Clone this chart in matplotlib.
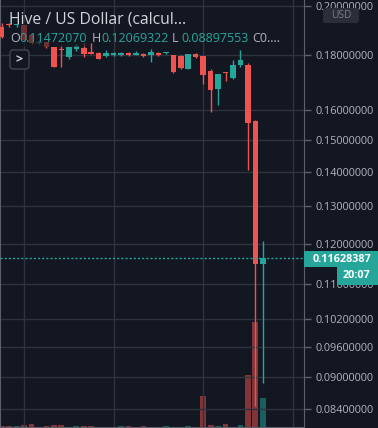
import matplotlib
matplotlib.use("Agg")
import matplotlib.pyplot as plt
from matplotlib.patches import Rectangle, FancyBboxPatch
from matplotlib.ticker import FixedLocator, NullLocator, FuncFormatter

# candle data (5 min bars)
opens = [0.1913, 0.1922, 0.1918, 0.1920, 0.1879, 0.1847, 0.1851, 0.1831, 0.1821,
         0.1792, 0.1823, 0.1827, 0.1812, 0.1808, 0.1796, 0.1800, 0.1800, 0.1808,
         0.1800, 0.1804, 0.1800, 0.1808, 0.1806, 0.1800, 0.1796, 0.1747, 0.1804,
         0.1796, 0.1739, 0.1673, 0.1732, 0.1713, 0.1762, 0.1762, 0.1562, 0.11472070]
highs = [0.1928, 0.1928, 0.1924, 0.1922, 0.1881, 0.1859, 0.1853, 0.1831, 0.1839,
         0.1831, 0.1843, 0.1847, 0.1847, 0.1810, 0.1819, 0.1810, 0.1810, 0.1810,
         0.1815, 0.1806, 0.1823, 0.1810, 0.1810, 0.1800, 0.1800, 0.1804, 0.1806,
         0.1796, 0.1747, 0.1728, 0.1735, 0.1781, 0.1819, 0.1769, 0.1565, 0.12069322]
lows = [0.1867, 0.1913, 0.1913, 0.1857, 0.1845, 0.1843, 0.1829, 0.1754, 0.1754,
        0.1785, 0.1815, 0.1792, 0.1804, 0.1785, 0.1792, 0.1798, 0.1798, 0.1798,
        0.1800, 0.1794, 0.1773, 0.1798, 0.1804, 0.1732, 0.1747, 0.1747, 0.1790,
        0.1691, 0.1592, 0.1617, 0.1702, 0.1711, 0.1754, 0.1406, 0.0846, 0.08897553]
closes = [0.1872, 0.1918, 0.1922, 0.1859, 0.1847, 0.1852, 0.1831, 0.1754, 0.1819,
          0.1831, 0.1835, 0.1804, 0.1804, 0.1785, 0.1808, 0.1808, 0.1808, 0.1800,
          0.1808, 0.1796, 0.1812, 0.1800, 0.1808, 0.1735, 0.1750, 0.1804, 0.1792,
          0.1724, 0.1670, 0.1728, 0.1730, 0.1762, 0.1781, 0.1555, 0.11472070, 0.11628387]
volumes = [15, 10, 10, 20, 30, 5, 10, 20, 20, 5, 10, 10, 10, 5, 5, 5, 15, 10,
           5, 10, 5, 5, 10, 5, 5, 10, 5, 310, 20, 15, 30, 5, 20, 520, 1050, 290]

price_ticks = [0.2, 0.18, 0.16, 0.15, 0.14, 0.13, 0.12, 0.11, 0.102, 0.096, 0.09, 0.084]
time_grid = [3, 15, 27, 39]
last_price = 0.11628387
countdown = "20:07"

BG = "#131722"
GRID = "#2f333e"
UP = "#26a69a"
DOWN = "#ef5350"
TXT = "#b2b5be"

W, H = 378, 428
plt.rcParams["font.family"] = ["Open Sans", "DejaVu Sans"]


def fx(px):
    return px / W


def fy(py):
    return 1 - py / H


fig = plt.figure(figsize=(W / 100, H / 100), dpi=100, facecolor=BG)
rect = [0, fy(427), fx(304), 427 / H]

# volume first so that candles sit on top
axv = fig.add_axes(rect, facecolor=BG)
idx = list(range(len(opens)))
vcol = [UP if c >= o else DOWN for o, c in zip(opens, closes)]
axv.bar(idx, volumes, width=0.78, color=vcol, alpha=0.5, linewidth=0)
axv.set_ylim(0, 4270)
axv.set_xlim(-0.23, 40.52)
axv.axis("off")

ax = fig.add_axes(rect, facecolor="none")
ax.set_yscale("log")
ax.set_ylim(0.08088, 0.2026)
ax.set_xlim(-0.23, 40.52)

for i in idx:
    o, h, l, c = opens[i], highs[i], lows[i], closes[i]
    col = UP if c >= o else DOWN
    ax.vlines(i, l, h, color=col, linewidth=1, zorder=3)
    lo = min(o, c)
    hgt = max(abs(c - o), lo * 0.003)
    ax.bar(i, hgt, bottom=lo, width=0.74, color=col, linewidth=0, zorder=4)

ax.axhline(last_price, color=UP, linewidth=1, linestyle=(0, (1.5, 1.5)), zorder=5)

ax.yaxis.set_major_locator(FixedLocator(price_ticks))
ax.yaxis.set_minor_locator(NullLocator())
ax.yaxis.set_major_formatter(FuncFormatter(lambda v, p: f"{v:.8f}"))
ax.yaxis.tick_right()
ax.tick_params(axis="y", colors="#5d606b", labelcolor=TXT, length=5, width=1,
               pad=3, labelsize=7.8)
ax.xaxis.set_major_locator(FixedLocator(time_grid))
ax.tick_params(axis="x", length=0, labelbottom=False)
ax.grid(True, color=GRID, linewidth=1)
ax.set_axisbelow(True)
ax.spines["top"].set_visible(False)
for s in ["left", "right", "bottom"]:
    ax.spines[s].set_color("#5d606b")

# legend backdrop + text
fig.patches.append(Rectangle((fx(20), fy(47)), fx(68), 25 / H, transform=fig.transFigure,
                             facecolor=BG, alpha=0.6, linewidth=0, zorder=2))
fig.text(fx(9), fy(19), "Hive / US Dollar (calcul...", color="#d1d4dc", fontsize=11.3,
         va="center", ha="left", zorder=5)

ohlc = [("O", opens[-1], 10), ("H", highs[-1], 92), ("L", lows[-1], 172)]
for lab, val, x in ohlc:
    fig.text(fx(x), fy(39), lab, color=TXT, fontsize=9, va="center", ha="left", zorder=5)
    fig.text(fx(x + 9), fy(39), f"{val:.8f}", color=UP, fontsize=9, va="center",
             ha="left", zorder=5)
fig.text(fx(252), fy(39), "C0....", color=TXT, fontsize=9, va="center", ha="left", zorder=5)

# collapse button
fig.patches.append(FancyBboxPatch((fx(10), fy(69)), fx(19), 19 / H,
                                  boxstyle="round,pad=0,rounding_size=0.008",
                                  transform=fig.transFigure, facecolor=BG,
                                  edgecolor="#434651", linewidth=1, zorder=3))
fig.text(fx(19.5), fy(59.5), ">", color="#d1d4dc", fontsize=9, va="center",
         ha="center", fontweight="bold", zorder=5)

# USD badge
fig.patches.append(FancyBboxPatch((fx(323), fy(23)), fx(36), 15 / H,
                                  boxstyle="round,pad=0,rounding_size=0.006",
                                  transform=fig.transFigure, facecolor="#2a2e39",
                                  edgecolor="none", zorder=3))
fig.text(fx(341), fy(15.5), "USD", color="#787b86", fontsize=7.4, va="center",
         ha="center", zorder=5)

# last price label + countdown
fig.patches.append(Rectangle((fx(304), fy(267)), fx(74), 16 / H, transform=fig.transFigure,
                             facecolor=UP, linewidth=0, zorder=3))
fig.text(fx(313), fy(259), f"{last_price:.8f}", color="white", fontsize=7.8,
         va="center", ha="left", fontweight="bold", zorder=5)
fig.patches.append(Rectangle((fx(337), fy(285)), fx(41), 18 / H, transform=fig.transFigure,
                             facecolor=UP, linewidth=0, zorder=3))
fig.text(fx(357), fy(276), countdown, color="white", fontsize=7.8, va="center",
         ha="center", fontweight="bold", zorder=5)

fig.savefig("out.png", dpi=100, facecolor=BG)
